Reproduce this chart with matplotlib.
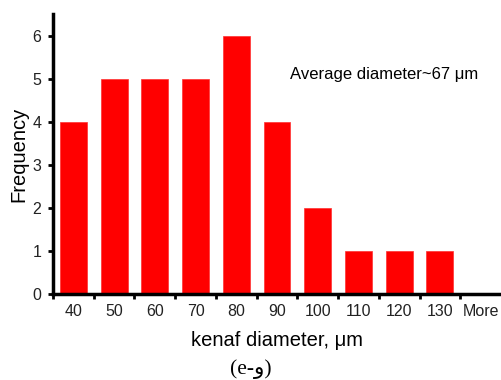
import numpy as np
import matplotlib.pyplot as plt

bins = ["40", "50", "60", "70", "80", "90", "100", "110", "120", "130", "More"]
freq = [4, 5, 5, 5, 6, 4, 2, 1, 1, 1, 0]

plt.rcParams['font.family'] = ['Liberation Sans', 'DejaVu Sans']

fig = plt.figure(figsize=(5.01, 3.80), dpi=100)
ax = fig.add_axes([53 / 501, 1 - 294 / 380, 448 / 501, 280 / 380])

x = np.arange(len(bins))
ax.bar(x, freq, width=0.66, color='#ff0000', edgecolor='#ff3030', linewidth=0.5)

ax.set_xlim(-0.5, len(bins) - 0.5)
ax.set_ylim(0, 6.5)
ax.set_yticks(range(0, 7))
# category ticks sit between the bars, labels sit under the bars
ax.set_xticks(np.arange(len(bins)) - 0.5)
ax.set_xticklabels([])
ax.set_xticks(x, minor=True)
ax.set_xticklabels(bins, minor=True)
ax.tick_params(axis='x', which='minor', length=0, labelsize=11.5, pad=7,
               labelcolor='#222222')
ax.tick_params(axis='x', which='major', direction='out', length=3.5, width=2)
ax.tick_params(axis='y', direction='out', length=3.5, width=2, labelsize=11.5,
               pad=5, labelcolor='#222222')

for side in ['top', 'right']:
    ax.spines[side].set_visible(False)
for side in ['left', 'bottom']:
    ax.spines[side].set_linewidth(2.5)

ax.set_xlabel("kenaf diameter, μm", fontsize=14.5, labelpad=9)
ax.set_ylabel("Frequency", fontsize=14.5, labelpad=3)

ax.text(0.74, 0.785, "Average diameter~67 μm", transform=ax.transAxes,
        fontsize=12, ha='center', va='center')

fig.text(0.5, 1 - 369 / 380, "(e-و)", ha='center', va='center', fontsize=15.5,
         family=['Liberation Serif', 'DejaVu Sans'])

fig.savefig("out.png", dpi=100)
